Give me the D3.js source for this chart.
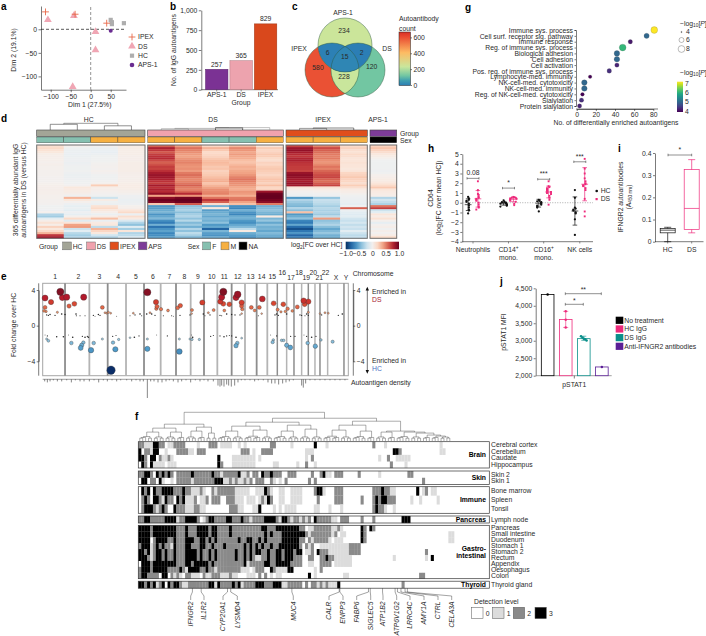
<!DOCTYPE html>
<html><head><meta charset="utf-8">
<script src="https://cdn.jsdelivr.net/npm/d3@7"></script>
<style>
html,body{margin:0;padding:0;background:#fff}
svg{display:block}
text{font-family:"Liberation Sans",Arial,sans-serif;font-size:6.8px;fill:#2a2a2a}
.domain,.tick line{stroke:#222;stroke-width:.6}
</style></head><body><svg id="c" width="706" height="636"></svg>
<script>
/* ---------- panel a ---------- */
const aIpex=[[-113,37],[-39,32],[40,13]];
const aDs=[[-107,20],[-42,29],[12,-5],[12,-44],[-45,-122]];
const aHc=[[50,20],[53,11],[53,15],[83,13]];
const aAps=[[50,-3]];
const aLegend=["IPEX","DS","HC","APS-1"];
/* ---------- panel b ---------- */
const bGroups=["APS-1","DS","IPEX"];
const bValues=[257,365,829];
const bColors=["#7b3294","#eda3ae","#d9481c"];
/* ---------- panel c ---------- */
const vennCounts={aps:234,ipex:580,ds:120,apsIpex:6,apsDs:2,ipexDs:228,all:15};
const countStops=[0,60,120,228,400,600];
const countColors=["#2a7db5","#3f9fb0","#72c6a2","#c9e69c","#fdbb63","#e8452f"];
/* ---------- panel g ---------- */
const gTerms=["Immune sys. process","Cell surf. receptor sig. pathway","Immune response","Reg. of immune sys. process","Biological adhesion","Cell adhesion","Cell activation","Pos. reg. of immune sys. process","Lymphocyte-med. immunity","NK-cell-med. cytotoxicity","NK-cell-med. immunity","Reg. of NK-cell-med. cytotoxicity","Sialylation","Protein sialylation"];
const gCounts=[81,73,56,48,42,42,42,34,14,8,8,6,5,3];
const gLogP=[7,5,4.2,6,5,5,4.3,4.4,4,5,5,4,4.4,4.3];
const gSizes=[6.8,5.2,4.4,6.8,5.6,5.6,4.4,4.6,3.6,5.6,5.6,3.7,4.4,4.3];
/* ---------- panel d ---------- */
const dColumns=["HC","HC","HC","HC","DS","DS","DS","DS","DS","IPEX","IPEX","IPEX","APS"];
const dSex=["F","F","M","M","M","M","F","F","M","M","M","M","NA"];
const dRows=[
[.15,.02,.00,.06,.60,.42,.20,.32,.12,.68,.50,.18,.22],
[.18,-.03,-.05,.06,.80,.55,.34,.48,.25,.85,.66,.22,.28],
[.14,-.05,-.06,.05,.72,.50,.26,.44,.20,.88,.60,.16,.22],
[.10,-.05,-.07,.05,.62,.46,.18,.38,.22,.82,.56,.14,.16],
[.05,-.06,-.05,.05,.70,.42,.20,.42,.26,.76,.52,.18,.10],
[.04,-.05,-.03,.04,.74,.40,.22,.38,.24,.72,.50,.16,.06],
[.03,-.04,-.02,.04,.76,.44,.26,.36,.18,.78,.52,.12,.02],
[.03,-.04,-.02,.04,.66,.48,.30,.30,.16,.80,.46,.12,-.02],
[.02,-.05,-.01,.05,.60,.50,.32,.28,.22,.74,.44,.14,-.03],
[.03,-.04,.00,.05,.64,.46,.30,.32,.20,.72,.48,.12,-.03],
[.02,-.03,.01,.05,.70,.44,.26,.36,.24,.70,.54,.12,-.03],
[.02,-.03,.00,.05,.68,.46,.28,.34,.26,.70,.50,.10,-.03],
[.01,-.02,.02,.05,.74,.42,.22,.38,.24,.68,.58,.12,-.04],
[.01,-.04,.00,.04,.82,.52,.24,.40,.22,.86,.62,.20,-.02],
[.01,-.05,-.02,.03,.86,.56,.26,.44,.20,.90,.66,.22,.02],
[.00,-.05,-.03,.03,.84,.52,.30,.50,.24,.88,.68,.26,.04],
[.00,-.04,-.02,.03,.80,.48,.34,.54,.28,.84,.60,.22,.06],
[.00,-.03,-.01,.04,.74,.50,.36,.50,.26,.82,.56,.20,.08],
[.02,-.02,.02,.05,.70,.54,.28,.46,.22,.86,.62,.16,.12],
[.03,.00,.24,.06,.82,.60,.34,.44,.30,.84,.68,.24,.18],
[.04,.10,.05,.06,.74,.52,.40,.38,.20,.12,.14,.16,.26],
[.04,.08,.04,.05,.80,.50,.46,.36,.22,.05,.06,.08,.12],
[.03,.06,.02,.03,.76,.58,.48,.44,.85,.00,.02,.05,.08],
[.03,.04,.00,.01,.88,.76,.50,.42,.98,-.03,-.02,.02,.06],
[.02,-.03,-.02,-.04,.40,.44,.36,.36,1.00,-.05,-.04,-.02,.04],
[.02,.34,-.20,-.04,.90,.96,.54,.52,1.00,-.58,-.38,-.04,-.30],
[.01,.10,.06,-.06,.98,1.00,.72,.54,.96,-.30,-.22,-.05,-.18],
[.01,.02,-.03,-.05,.94,.98,.60,.40,.90,-.36,-.24,-.06,-.24],
[.00,-.04,-.05,-.04,.26,.62,.16,.30,.52,-.42,-.28,-.08,-.32],
[-.03,-.08,.14,.02,-.58,-.40,-.48,-.62,-.48,-.46,-.34,-.04,.55],
[-.02,-.06,.18,.04,-.56,-.36,.10,-.66,-.44,-.30,-.28,.60,.70],
[-.04,-.10,.10,.12,-.50,-.32,-.56,-.48,-.40,-.42,-.32,-.05,-.20],
[.02,-.04,.04,.18,-.46,-.42,-.50,-.60,-.46,.30,-.30,-.10,-.10],
[-.30,-.08,-.05,-.06,-.60,-.34,-.46,-.66,-.50,-.58,-.36,-.12,.12],
[-.35,.02,.06,.16,-.52,-.30,-.52,-.50,.08,-.50,-.24,-.10,.06],
[-.10,.18,.30,.08,-.44,-.40,-.44,-.48,-.46,-.40,.42,-.18,.14],
[.04,-.12,-.06,-.14,-.62,-.28,-.48,-.58,-.38,-.66,-.40,-.22,.02],
[.14,.12,.08,-.30,-.70,-.44,-.40,-.62,-.52,-.70,-.36,-.16,-.08],
[.05,.40,.10,-.40,-.48,-.36,-.58,-.52,-.40,-.52,-.30,-.24,.00],
[.22,.42,-.25,-.12,-.74,-.48,-.52,-.44,-.48,-.76,-.42,-.18,.04],
[.10,-.20,.34,-.34,-.60,-.30,-.80,-.26,-.46,-.88,-.52,-.22,-.02],
[.18,-.10,.20,.12,-.54,-.40,-.46,.08,-.52,-.72,-.44,-.10,.04],
[.34,-.28,.10,-.30,-.66,-.26,-.56,-.50,-.44,-.60,-.38,-.20,.00],
[.72,-.34,-.18,-.26,-.62,-.34,-.60,-.56,-.50,-.78,-.48,-.26,.06],
[.84,-.30,-.30,-.16,-.56,-.46,-.52,-.62,-.54,-.70,-.50,-.24,.18]
];
/* ---------- panel e ---------- */
const eBounds=[128,195,268,323,378,432,482,528,572,612,652,695,735,770,802,832,860,882,905,925,945,960,983,1032,1045];
const eNames=[["1",165,0],["2",235,0],["3",298,0],["4",354,0],["5",408,0],["6",459,0],["7",508,0],["8",553,0],["9",594,0],["10",635,0],["11",673,0],["12",713,0],["13",752,0],["14",785,0],["15",817,0],["16",847,-3.7],["17",873,1.6],["18",897,-3.7],["19",919,1.6],["20",940,-3.7],["21",958,1.6],["22",977,-3.7],["X",1008,1.6],["Y",1038,1.6]];
const eUp=[[135,3.1],[153,2.65],[181,3.8],[187,3.15],[200,3.2],[251,3.2],[207,2.2],[223,2.45],[135,2.05],[132,1.65],[138,1.6],[307,2.05],[442,3.75],[468,2.65],[471,2.15],[469,1.9],[483,1.85],[504,1.7],[533,2.0],[541,2.25],[576,1.75],[607,2.6],[641,1.75],[670,3.8],[665,3.2],[661,2.7],[670,2.45],[688,2.4],[673,1.7],[708,3.15],[713,3.5],[725,2.6],[725,2.2],[727,1.85],[754,2.05],[764,1.7],[778,2.05],[787,3.0],[821,2.5],[833,1.8],[850,2.4],[863,1.9],[856,1.6],[843,1.55],[877,1.65],[892,2.1],[911,2.8],[914,2.4],[925,2.7],[925,1.5],
[140,1.2],[145,1.15],[150,1.25],[165,1.15],[172,1.5],[185,1.3],[195,1.25],[228,1.3],[229,1.1],[240,1.1],[255,1.1],[280,1.15],[285,1.05],[295,1.25],[300,1.15],[315,1.45],[320,1.4],[325,1.5],[332,1.4],[350,1.05],[390,1.1],[400,1.4],[405,1.2],[420,1.3],[425,1.1],[440,1.3],[450,1.45],[455,1.3],[465,1.15],[490,1.1],[515,1.1],[520,1.05],[540,1.15],[570,1.2],[575,1.35],[610,1.3],[615,1.1],[625,1.45],[630,1.2],[660,1.15],[665,1.1],[680,1.3],[695,1.25],[705,1.2],[720,1.2],[725,1.35],[775,1.1],[785,1.35],[825,1.2],[830,1.3],[835,1.15],[860,1.3],[900,1.2],[905,1.15],[915,1.1],[920,1.3],[925,1.15],[960,1.35],[965,1.2],[975,1.45],[985,1.4],[1015,1.15],[1027,1.3]];
const eDown=[[140,-1.5],[145,-1.7],[214,-1.95],[250,-1.9],[245,-2.2],[242,-2.5],[273,-2.75],[281,-1.95],[307,-1.5],[333,-5],[339,-1.9],[346,-2.65],[356,-1.55],[442,-1.5],[442,-2.6],[538,-2.9],[538,-1.5],[570,-1.5],[576,-1.55],[598,-1.55],[712,-1.95],[708,-2.25],[725,-1.4],[820,-1.6],[818,-1.85],[845,-1.65],[851,-1.65],[860,-2.2],[871,-2.45],[923,-1.95],[946,-2.3],[963,-1.6],[998,-1.8],
[135,-1.05],[142,-1.15],[170,-1.25],[190,-1.25],[205,-1.05],[218,-1.3],[247,-1.2],[255,-1.3],[262,-1.2],[265,-1.3],[338,-1.2],[348,-1.1],[390,-1.35],[403,-1.3],[417,-1.15],[470,-1.05],[502,-1.15],[575,-1.05],[578,-1.3],[632,-1.2],[640,-1.1],[660,-1.15],[672,-1.25],[680,-1.15],[688,-1.1],[695,-1.15],[708,-1.3],[812,-1.05],[830,-1.15],[872,-1.2],[885,-1.2],[912,-1.05],[920,-1.2],[935,-1.3],[948,-1.2]];
const eDensity=[[134,2],[142,3],[150,2],[160,1],[172,2],[185,2],[200,1],[214,3],[226,1],[240,2],[252,2],[268,2],[282,1],[296,3],[310,1],[322,2],[336,1],[350,2],[362,1],[380,1],[395,2],[408,1],[420,2],[430,2],[442,18],[452,2],[462,2],[474,3],[486,3],[498,2],[508,1],[520,2],[534,3],[545,2],[558,1],[572,3],[586,1],[600,2],[612,1],[624,2],[640,2],[654,6],[660,7],[665,6],[672,7],[680,5],[686,6],[694,7],[704,6],[714,3],[724,1],[735,1],[750,1],[764,2],[775,1],[790,1],[804,3],[815,4],[825,4],[836,5],[848,4],[858,3],[868,2],[880,1],[905,6],[910,8],[917,4],[930,1],[945,1],[960,1],[975,1],[990,1],[1005,1],[1020,1],[1035,1]];
/* ---------- panel f ---------- */
const fBlocks=[["Brain",441.7,468],["Skin",471,484.5],["Immune",486.7,513.3],["Pancreas",516,523],["Gastro-\nintestinal",525.3,578.7],["Thyroid",581.2,588.2]];
const brainTissues=["Cerebral cortex","Cerebellum","Caudate","Hippocampus"];
const brainLeft=["221113322011222200001000222011110010100000000220000010000000","302213300100022221102220000000000002220100222200000000000111","332033021121000000000000000300001111111101000000000000000102","032031111011100000000000000320001111111100000011000000100200"];
const brainRight=["300010000000000000002000100000000000000000010000000000000000","000000000000000000000000000332000000000000011000000000000000","000000000000000000000010020011111000000000000000000000000000","100000000000000000000000002000010000000000000000000000000000"];
const skinTissues=["Skin 2","Skin 1"];
const skinLeft=["223320323232022222322222232212222231120220322322200222000002","033022031001022222122222223331121211212022200210102000000020"];
const skinRight=["002311022200000200000010000000002200000000000000000000000000","200000000000000000000000000000000000020000000000000000000000"];
const immuneTissues=["Bone marrow","Spleen","Tonsil"];
const immuneLeft=["032303223333222322111210021222222111110011132100110011110000","023203321322032311120112022200222111011101213200110011110000","023332123200322211122110000000022211000113000010101111000000"];
const immuneRight=["233100022200000000002223221100000003012011000000000000000000","020000022200000020002323322200000100100000100000000000000000","110001000100000000002322100100000000000000000000000000000000"];
const pancreasTissues=["Lymph node"];
const pancreasLeft=["223322222333312233332012332222332223221222233332133212212120"];
const pancreasRight=["322222110222000020002000000000333000000000000000000000000000"];
const giTissues=["Pancreas","Small intestine","Duodenum","Stomach 1","Stomach 2","Rectum","Appendix","Oesophagus","Colon"];
const giLeft=["333323333333322232223333233222232222222222332223333333322011","333323333333322232223333233222232222222222232322233333333212","333302333322322233322332323222222232233223232222233333322021","233312323221322233222332232223222222323232322322333333320212","332312332322322233332322323222222322323233223223323332330112","333212332322322233332322323222222322323211223223323332220022","033323333333322233233333232222222222312222233223333322220011","233323333322223213333223221222222221110122200321111330000000","233222203302121022111021122211121100011102020101100000000030"];
const giRight=["222222112100000032032000000000000000000000000000000000000000","222222120110000032000000000000000000000000000011000000000000","222221011100000032000000000000000000000000000011000000000000","001111111111222200000000000000000000000000000000000000000000","032221111111222200000000000000000000002000000000000000000000","002232211111100000000000000100000000001030000000000000000000","002222011111100000000000000000000000000000000000000000000000","102000000000000000000000000000000000000000000000000000000000","100000000011000000000000000000000000220000000000000000000000"];
const thyroidTissues=["Thyroid gland"];
const thyroidLeft=["332323123032332112222222331322223231222233322233311222220202"];
const thyroidRight=["212121113000000000000000000000200000000000000000000000000000"];
const fLevels=["#ffffff","#dcdcdc","#8a8a8a","#000000"];
const fGenes=[["IFNGR2",18.5,190.7],["IL1R2",21.5,204],["CYP20A1",30.5,223],["LYSMD4",31.6,237.3],["MUC4",52.5,293.3],["CALR",68.7,329],["ENPP3",68.9,343],["FABP6",78.7,356.7],["SIGLEC5",79.3,370.7],["ATP1B2",83.5,383],["ATP6V1G2",87.8,396.7],["LRRC4C",88.6,410],["AMY1A",89.8,424],["CTRL",91.2,438],["CELA3A",92,451.7]];
/* nested [merge height, left, right]; a plain number is a tight cluster of leaves */
const fTree=[29,[17,[13,[9,5,4],[9,4,3]],[14,[10,4,3],[8,2,2]]],[23,[19,[15,[10,5,4],[11,6,4]],[16,[10,5,4],[12,4,4]]],[20,[16,[11,6,4],[10,5,3]],[10,[9,4,3],[9,5,[8,4,[6,3,[5,3,[4,2,[3,1,1]]]]]]]]]];
/* ---------- panel h ---------- */
const hCells=["Neutrophils","CD14⁺ mono.","CD16⁺ mono.","NK cells"];
const hcPts=[[.6,.45,.3,.2,.1,-.1,-.3,-.5,-.7,-.8,-1.1],[.25,.1,.05,0,-.05,-.1,-.15,-.2,-.25,-.3,-.4],[.3,.2,.15,.05,0,-.1,-.2,-.3,-.4,-.5,-.9],[1.3,.5,-.5,-.6,-.7,-.8,-1,-1.1,-1.7,-3.3]];
const dsPts=[[2.2,1.3,.9,.8,.6,.5,.4,.3,.2,0,-.2,-.4,-.5,-.7],[.6,.55,.5,.5,.45,.4,.35,.3,.2,.1,-.1,-.25],[2.2,1.7,1.6,1.5,1.4,1.3,1.2,1.1,1,.9,.7,.5,.3,-.2],[4.5,3.5,3,2.5,2.2,2,1.9,1.8,1.7,1.5,1.3,.4,-.9,-1.4]];
const hcMean=[-.2,-.1,-.05,-.85], hcSd=[.6,.15,.4,1.45];
const dsMean=[.4,.35,1.1,1.9], dsSd=[.85,.25,.6,1.7];
const hSig=[["0.08",2.5],["*",1.5],["***",2.4],["***",4.2]];
/* ---------- panel i ---------- */
const iGroups=["HC","DS"];
const iBoxes=[{lo:0,q1:.04,med:.052,q3:.06,hi:.065},{lo:.04,q1:.055,med:.15,q3:.325,hi:.37}];
/* ---------- panel j ---------- */
const jGroups=["No treatment","HC IgG","DS IgG","Anti-IFNGR2 antibodies"];
const jMeans=[4320,3610,3060,2250];
const jPoints=[[4320],[3840,3600,3380],[3130,3090,3060,3040,3010],[2250]];
const jColors=["#000000","#ee2a7b","#0a8f8a","#5a1e96"];

/* ================= drawing ================= */
const svg=d3.select("#c");
function T(x,y,s,o={}){
  const t=(o.g||svg).append("text").attr("x",x).attr("y",y).text(s)
    .attr("text-anchor",o.a||"start");
  if(o.b)t.style("font-weight","bold");
  if(o.i)t.style("font-style","italic");
  if(o.c)t.style("fill",o.c);
  if(o.s)t.style("font-size",o.s+"px");
  return t;
}
function RT(tx,ty,parts,o={}){
  const t=svg.append("text").attr("transform",`translate(${tx},${ty})`+(o.rot?" rotate(-90)":"")).attr("text-anchor",o.a||"middle");
  let back=0;
  parts.forEach(p=>{
    const q=typeof p==="string"?{t:p}:p;
    const sp=t.append("tspan").text(q.t);
    const d=q.sub?1.4:q.sup?-2.2:0;
    if(d-back)sp.attr("dy",d-back);
    back=d;
    if(q.sub||q.sup)sp.style("font-size","4.8px");
    if(q.i)sp.style("font-style","italic");
  });
  return t;
}
function rot(x,y,s,o={}){return T(0,0,s,{a:"middle",...o}).attr("transform",`translate(${x},${y}) rotate(-90)`);}
function styleAxis(g,fs){g.selectAll("text").style("font-size",(fs||6.8)+"px");g.selectAll(".tick line").attr("stroke","#222");return g;}
[["a",1,9.5],["b",170,9.5],["c",292,9.5],["g",465,11],["d",1,122],["h",428,152],["i",618,152],["e",1,280],["j",500,285],["f",135,420]]
  .forEach(d=>T(d[1],d[2],d[0],{b:1,s:10,c:"#000"}));

/* --- a --- */
{
  const x=d3.scaleLinear([-100,50],[50.7,110.7]), y=d3.scaleLinear([-100,0],[76.4,29.3]);
  const xa=d3.scaleLinear([x.invert(41),x.invert(126)],[41,126]);
  const ya=d3.scaleLinear([y.invert(89.7),y.invert(6)],[89.7,6]);
  svg.append("g").attr("transform","translate(0,89.7)").call(d3.axisBottom(xa).tickValues([-100,-50,0,50]).tickSize(2.5).tickPadding(1.5).tickSizeOuter(0)).call(styleAxis);
  svg.append("g").attr("transform","translate(41,0)").call(d3.axisLeft(ya).tickValues([-100,-50,0]).tickSize(2.5).tickPadding(1.5).tickSizeOuter(0)).call(styleAxis);
  svg.append("line").attr("x1",41).attr("x2",125).attr("y1",y(0)).attr("y2",y(0)).attr("stroke","#111").attr("stroke-width",.7).attr("stroke-dasharray","3,2");
  svg.append("line").attr("x1",x(0)).attr("x2",x(0)).attr("y1",7).attr("y2",89.7).attr("stroke","#777").attr("stroke-width",.8).attr("stroke-dasharray","3,2");
  const plus=(g,cx,cy,r)=>g.append("path").attr("d",`M${cx-r},${cy}H${cx+r}M${cx},${cy-r}V${cy+r}`).attr("stroke","#e8694a").attr("stroke-width",.9).attr("fill","none");
  const tri=(cx,cy,r)=>svg.append("path").attr("d",d3.symbol(d3.symbolTriangle,r*r*2.4)()).attr("transform",`translate(${cx},${cy})`).attr("fill","#f0a6b4");
  const sq=(cx,cy,s)=>svg.append("rect").attr("x",cx-s/2).attr("y",cy-s/2).attr("width",s).attr("height",s).attr("fill","#aeaeae");
  aHc.forEach(d=>sq(x(d[0]),y(d[1]),4.2));
  aDs.forEach(d=>tri(x(d[0]),y(d[1]),3.3));
  aIpex.forEach(d=>plus(svg,x(d[0]),y(d[1]),3.4));
  aAps.forEach(d=>svg.append("circle").attr("cx",x(d[0])).attr("cy",y(d[1])).attr("r",2).attr("fill","#6a2c91"));
  const ly=d3.scalePoint(aLegend,[37,65]);
  plus(svg,132,ly("IPEX"),3.4);tri(132,ly("DS"),3.3);sq(132,ly("HC"),4.2);
  svg.append("circle").attr("cx",132).attr("cy",ly("APS-1")).attr("r",2.3).attr("fill","#6a2c91");
  aLegend.forEach(l=>T(138,ly(l)+2.3,l));
  T(89.7,107,"Dim 1 (27.5%)",{a:"middle"});
  rot(16,50,"Dim 2 (19.1%)");
}
/* --- b --- */
{
  const x=d3.scaleBand(bGroups,[205,277.3]).paddingInner(.08).paddingOuter(.02), y=d3.scaleLinear([0,1000],[89.7,10.3]);
  svg.append("g").attr("transform","translate(201.3,0)").call(d3.axisLeft(y).tickValues([0,250,500,750,1000]).tickFormat(d3.format(",")).tickSize(2.5).tickPadding(1.5).tickSizeOuter(0)).call(styleAxis);
  svg.append("line").attr("x1",201.3).attr("x2",278).attr("y1",89.7).attr("y2",89.7).attr("stroke","#222").attr("stroke-width",.6);
  bGroups.forEach((g,i)=>{
    svg.append("rect").attr("x",x(g)).attr("width",x.bandwidth()).attr("y",y(bValues[i])).attr("height",89.7-y(bValues[i])).attr("fill",bColors[i]).attr("stroke",d3.color(bColors[i]).darker(.9)).attr("stroke-width",.5);
    T(x(g)+x.bandwidth()/2,y(bValues[i])-2.5,bValues[i],{a:"middle"});
    T(x(g)+x.bandwidth()/2,97,g,{a:"middle"});
    svg.append("line").attr("x1",x(g)+x.bandwidth()/2).attr("x2",x(g)+x.bandwidth()/2).attr("y1",89.7).attr("y2",91.5).attr("stroke","#222").attr("stroke-width",.5);
  });
  T(241,105,"Group",{a:"middle"});
  rot(176,50,"No. of IgG autoantigens");
}
/* --- c --- */
{
  const col=d3.scaleLinear(countStops,countColors);
  const C={aps:[345,45],ipex:[332,70],ds:[358,70]}, R=27;
  const defs=svg.append("defs");
  Object.keys(C).forEach(k=>defs.append("clipPath").attr("id","v-"+k).append("circle").attr("cx",C[k][0]).attr("cy",C[k][1]).attr("r",R));
  const circ=(g,k,f)=>g.append("circle").attr("cx",C[k][0]).attr("cy",C[k][1]).attr("r",R).attr("fill",f);
  circ(svg,"ipex",col(vennCounts.ipex));circ(svg,"ds",col(vennCounts.ds));circ(svg,"aps",col(vennCounts.aps));
  circ(svg.append("g").attr("clip-path","url(#v-ipex)"),"ds",col(vennCounts.ipexDs));
  circ(svg.append("g").attr("clip-path","url(#v-aps)"),"ipex",col(vennCounts.apsIpex));
  circ(svg.append("g").attr("clip-path","url(#v-aps)"),"ds",col(vennCounts.apsDs));
  circ(svg.append("g").attr("clip-path","url(#v-aps)").append("g").attr("clip-path","url(#v-ds)"),"ipex",col(vennCounts.all));
  Object.keys(C).forEach(k=>circ(svg,k,"none").attr("stroke","#2c5a3c").attr("stroke-width",.45));
  [[344,33,vennCounts.aps],[327.7,54.6,vennCounts.apsIpex],[344.7,58.6,vennCounts.all],[361.7,54.6,vennCounts.apsDs],[318,69.5,vennCounts.ipex],[344,79,vennCounts.ipexDs],[371.7,68.6,vennCounts.ds]].forEach(d=>T(d[0],d[1],d[2],{a:"middle"}));
  T(343,14.8,"APS-1",{a:"middle"});T(299,51,"IPEX",{a:"middle"});T(387,51,"DS",{a:"middle"});
  T(399,21,"Autoantibody");T(399,31,"count");
  const y=d3.scaleLinear([0,600],[85,37.4]);
  const id=defs.append("linearGradient").attr("id","cnt").attr("x1",0).attr("x2",0).attr("y1",1).attr("y2",0);
  countStops.forEach((s,i)=>id.append("stop").attr("offset",s/650).attr("stop-color",countColors[i]));
  id.append("stop").attr("offset",1).attr("stop-color","#d73027");
  svg.append("rect").attr("x",399).attr("y",32).attr("width",11.5).attr("height",53.5).attr("fill","url(#cnt)").attr("stroke","#222").attr("stroke-width",.5);
  svg.append("g").attr("transform","translate(410.5,0)").call(d3.axisRight(y).tickValues([0,200,400,600]).tickSize(1.5).tickPadding(1.5).tickSizeOuter(0)).call(g=>g.select(".domain").remove()).call(styleAxis);
}
/* --- g --- */
{
  const y=d3.scalePoint(gTerms,[30,106]), x=d3.scaleLinear([0,80],[576.7,653.3]);
  const col=d3.scaleSequential([4,7],d3.interpolateViridis);
  svg.append("g").attr("transform","translate(576,0)").call(d3.axisLeft(y).tickSize(1.5).tickPadding(1.5)).call(styleAxis);
  svg.append("g").attr("transform","translate(0,109)").call(d3.axisBottom(x).tickValues([0,20,40,60,80]).tickSize(2).tickPadding(1).tickSizeOuter(0)).call(styleAxis);
  svg.append("line").attr("x1",576).attr("x2",658).attr("y1",109).attr("y2",109).attr("stroke","#222").attr("stroke-width",.6);
  gTerms.forEach((t,i)=>svg.append("circle").attr("cx",x(gCounts[i])).attr("cy",y(t)).attr("r",gSizes[i]/2).attr("fill",col(gLogP[i])).attr("stroke","#555").attr("stroke-width",.2));
  T(616,125,"No. of differentially enriched autoantigens",{a:"middle"});
  const mk=(x,y)=>RT(x,y,["−log",{t:"10",sub:1},"[",{t:"P",i:1},"]"],{a:"start"});
  mk(680,26);
  [[4,.6,32],[6,2.5,40],[8,3.4,49]].forEach(d=>{
    svg.append("circle").attr("cx",681.5).attr("cy",d[2]).attr("r",d[1]).attr("fill",d[0]==4?"#555":"#fff").attr("stroke","#555").attr("stroke-width",.4);
    T(686,d[2]+2.2,d[0]);
  });
  mk(680,75);
  const yc=d3.scaleLinear([4,7],[111,83]);
  const defs=svg.append("defs"),gr=defs.append("linearGradient").attr("id","vir").attr("x1",0).attr("x2",0).attr("y1",1).attr("y2",0);
  d3.range(0,1.01,.1).forEach(t=>gr.append("stop").attr("offset",t).attr("stop-color",d3.interpolateViridis(t)));
  svg.append("rect").attr("x",677).attr("y",81.7).attr("width",6).attr("height",30.3).attr("fill","url(#vir)");
  svg.append("g").attr("transform","translate(683,0)").call(d3.axisRight(yc).tickValues([4,5,6,7]).tickFormat(d3.format("d")).tickSize(0).tickPadding(2)).call(g=>g.select(".domain").remove()).call(styleAxis);
}
/* --- d --- */
{
  const blocks=[["HC",36.7,145,"#a3a597"],["DS",147.7,283.3,"#f0a2ad"],["IPEX",286,367.3,"#e04e1c"],["APS",370,396.7,"#7d3c98"]];
  const sexC={F:"#86c0b0",M:"#f6b042",NA:"#000"};
  const top=145,bot=238.3;
  const ry=d3.scaleBand(d3.range(dRows.length),[top,bot]);
  const col=v=>d3.interpolateRdBu(.5-v/2);
  let xs=[];
  blocks.forEach(b=>{
    const idx=dColumns.map((c,i)=>c===b[0]?i:-1).filter(i=>i>=0);
    const bx=d3.scaleBand(idx,[b[1],b[2]]);
    svg.append("rect").attr("x",b[1]).attr("y",130).attr("width",b[2]-b[1]).attr("height",6.4).attr("fill",b[3]).attr("stroke","#444").attr("stroke-width",.6);
    idx.forEach(i=>{
      xs[i]=bx(i)+bx.bandwidth()/2;
      svg.append("rect").attr("x",bx(i)).attr("y",137).attr("width",bx.bandwidth()).attr("height",5.8).attr("fill",sexC[dSex[i]]).attr("stroke","#333").attr("stroke-width",.35);
      dRows.forEach((r,j)=>svg.append("rect").attr("x",bx(i)).attr("y",ry(j)).attr("width",bx.bandwidth()+.3).attr("height",ry.bandwidth()+.3).attr("fill",col(r[i])));
    });
    svg.append("rect").attr("x",b[1]).attr("y",top).attr("width",b[2]-b[1]).attr("height",bot-top).attr("fill","none").attr("stroke","#6f6f6f").attr("stroke-width",1);
  });
  const link=(x1,x2,y,y1,y2,c)=>svg.append("path").attr("d",`M${x1},${y1}V${y}H${x2}V${y2}`).attr("fill","none").attr("stroke",c||"#444").attr("stroke-width",.6);
  link(xs[0],xs[1],124.3,130,130);link(xs[2],xs[3],125.8,130,130);link((xs[0]+xs[1])/2,(xs[2]+xs[3])/2,123.3,124.3,125.8,"#555");
  link(xs[4],xs[5],128.8,130,130,"#888");link(xs[6],xs[7],127.6,130,130,"#111");link((xs[6]+xs[7])/2,xs[8],127.6,127.6,130,"#999");link((xs[4]+xs[5])/2,xs[7],128.4,128.8,127.6,"#888");
  link(xs[9],xs[10],128.4,130,130,"#555");link((xs[9]+xs[10])/2,xs[11],128,128.4,130,"#333");
  [["HC",88.7],["DS",213],["IPEX",323],["APS-1",378]].forEach(d=>T(d[1],122,d[0],{a:"middle"}));
  T(400,135.8,"Group");T(400,143,"Sex");
  rot(18,190,"365 differentially abundant IgG");rot(26,190,"autoantigens in DS (versus HC)");
  T(39,249,"Group");
  [["HC",62.7,"#a3a597"],["DS",86.7,"#f0a2ad"],["IPEX",110,"#e04e1c"],["APS",138.3,"#7d3c98"]].forEach(d=>{
    svg.append("rect").attr("x",d[1]).attr("y",242).attr("width",8.6).attr("height",7.8).attr("fill",d[2]).attr("stroke","#666").attr("stroke-width",.5);
    T(d[1]+10,249,d[0]);
  });
  T(187.7,249,"Sex");
  [["F",202.7,sexC.F],["M",221,sexC.M],["NA",239,sexC.NA]].forEach(d=>{
    svg.append("rect").attr("x",d[1]).attr("y",242).attr("width",8).attr("height",7.8).attr("fill",d[2]).attr("stroke","#666").attr("stroke-width",.5);
    T(d[1]+9.5,249,d[0]);
  });
  RT(291,247.3,["log",{t:"2",sub:1},"[FC over HC]"],{a:"start"});
  const cs=d3.scaleLinear([-1,1],[345.7,399]);
  const gr=svg.append("defs").append("linearGradient").attr("id","rd");
  d3.range(0,1.01,.1).forEach(t=>gr.append("stop").attr("offset",t).attr("stop-color",d3.interpolateRdBu(1-t)));
  svg.append("rect").attr("x",345.7).attr("y",241.7).attr("width",53.3).attr("height",7.6).attr("fill","url(#rd)");
  svg.append("g").attr("transform","translate(0,249.3)").call(d3.axisBottom(cs).tickValues([-1,-.5,0,.5,1]).tickFormat(d=>d===0?"0":d3.format(".1f")(d)).tickSize(0).tickPadding(2)).call(g=>g.select(".domain").remove()).call(styleAxis);
}
/* --- e --- */
{
  const x=d3.scaleLinear([128,1045],[42.7,348.3]), y=d3.scaleLinear([-4,4],[361.3,290]);
  const col=v=>v>0?d3.scaleLinear([1,1.6,2.5,3.2,3.9],["#f6c9ae","#ee8a5f","#d8442f","#b2182b","#7a0f22"])(v):d3.scaleLinear([-1,-1.6,-2.6,-5],["#d4e8f3","#95c7e0","#4f9ccb","#0a2d68"])(v);
  const r=d3.scaleLinear([1.05,1.5,2,2.6,3.2,3.9,5],[.45,1.1,1.9,2.6,3.1,3.7,4.2]);
  svg.append("rect").attr("x",x(128)).attr("y",283.3).attr("width",x(1045)-x(128)).attr("height",92.4).attr("fill","#fff").attr("stroke","#a5a5a5").attr("stroke-width",1);
  eBounds.slice(1,-1).forEach((b,i)=>svg.append("line").attr("x1",x(b)).attr("x2",x(b)).attr("y1",283.3).attr("y2",375.7).attr("stroke",i%2?"#b4b4b4":"#8d8d8d").attr("stroke-width",i<14?1.8:1.5));
  eNames.forEach(d=>T(x(d[1]),276.7+d[2]+2,d[0],{a:"middle"}));
  T(352.7,276,"Chromosome");
  const pts=eUp.concat(eDown).sort((a,b)=>Math.abs(a[1])-Math.abs(b[1]));
  svg.append("g").selectAll("circle").data(pts).join("circle").attr("cx",d=>x(d[0])).attr("cy",d=>y(d[1])).attr("r",d=>r(Math.abs(d[1])))
    .attr("fill",d=>Math.abs(d[1])<1.35?"#222":col(d[1])).attr("stroke","#333").attr("stroke-width",d=>Math.abs(d[1])<1.35?0:.35);
  svg.append("g").attr("transform","translate(38.7,0)").call(d3.axisLeft(y).tickValues([-4,0,4]).tickSize(2).tickPadding(1.5).tickSizeOuter(0)).call(styleAxis);
  svg.append("line").attr("x1",38.7).attr("x2",38.7).attr("y1",283.3).attr("y2",375.7).attr("stroke","#222").attr("stroke-width",.6);
  svg.append("g").attr("transform","translate(353.3,0)").call(d3.axisRight(y).tickValues([-4,0,4]).tickSize(2).tickPadding(1.5).tickSizeOuter(0)).call(styleAxis);
  svg.append("line").attr("x1",353.3).attr("x2",353.3).attr("y1",283.3).attr("y2",375.7).attr("stroke","#222").attr("stroke-width",.6);
  rot(16,325,"Fold change over HC");
  svg.append("path").attr("d","M367.3,288V372").attr("stroke","#111").attr("stroke-width",.6);
  svg.append("path").attr("d","M365.6,290.5L367.3,286.7L369,290.5ZM365.6,370L367.3,373.7L369,370Z").attr("fill","#111");
  T(372,294.3,"Enriched in");T(372,302,"DS",{c:"#a5202f"});T(372,363,"Enriched in");T(372,371.3,"HC",{c:"#4a6fc4"});
  const dy=d3.scaleLinear([0,18],[379.3,398]);
  svg.append("line").attr("x1",42.7).attr("x2",348.3).attr("y1",379.3).attr("y2",379.3).attr("stroke","#777").attr("stroke-width",.7);
  svg.append("g").selectAll("line").data(eDensity).join("line").attr("x1",d=>x(d[0])).attr("x2",d=>x(d[0])).attr("y1",379.3).attr("y2",d=>dy(d[1])).attr("stroke","#222").attr("stroke-width",.55);
  T(351,385.3,"Autoantigen density");
}
/* --- f --- */
{
  const rowsets=[[brainTissues,brainLeft,brainRight],[skinTissues,skinLeft,skinRight],[immuneTissues,immuneLeft,immuneRight],[pancreasTissues,pancreasLeft,pancreasRight],[giTissues,giLeft,giRight],[thyroidTissues,thyroidLeft,thyroidRight]];
  const cols=d3.range(120);
  const x=d3.scaleBand(cols,[138.3,489.3]);
  const lev=d3.scaleOrdinal(["0","1","2","3"],fLevels);
  const fg=svg.append("g");
  fBlocks.forEach((b,i)=>{
    const [names,L,R]=rowsets[i];
    const y=d3.scaleBand(names,[b[1],b[2]]);
    names.forEach((n,j)=>{
      const s=L[j].padEnd(60,"0").slice(0,60)+R[j].padEnd(60,"0").slice(0,60);
      cols.forEach(c=>{
        if(s[c]!=="0")fg.append("rect").attr("x",x(c)).attr("y",y(n)).attr("width",x.bandwidth()+.15).attr("height",y.bandwidth()+.1).attr("fill",lev(s[c]));
      });
      T(491,y(n)+y.bandwidth()/2+2.2,n);
    });
    fg.append("rect").attr("x",138.3).attr("y",b[1]).attr("width",351).attr("height",b[2]-b[1]).attr("fill","none").attr("stroke","#333").attr("stroke-width",.7);
    const lines=b[0].split("\n");
    const cy=(b[1]+b[2])/2+2.4-(lines.length-1)*3.6;
    lines.forEach((l,k)=>T(486,cy+k*7.4,l,{a:"end",b:1,c:"#000"}));
  });
  /* dendrogram over the leaves */
  const base=441;
  const h=d3.scaleLinear([0,29],[base,412.3]);
  let next=0;
  const paths=[];
  function tight(n){
    if(n===1){const c=next++;return{x:x(c)+x.bandwidth()/2,y:base};}
    const a=Math.ceil(n/2),A=tight(a),B=tight(n-a);
    return join(A,B,h(1.6+1.25*Math.log2(n)));
  }
  function join(A,B,y){paths.push(`M${A.x},${A.y}V${y}H${B.x}V${B.y}`);return{x:(A.x+B.x)/2,y};}
  function walk(n){
    if(typeof n==="number")return tight(n);
    const A=walk(n[1]),B=walk(n[2]);
    return join(A,B,h(n[0]));
  }
  walk(fTree);
  svg.append("path").attr("d",paths.join("")).attr("fill","none").attr("stroke","#3a3a3a").attr("stroke-width",.42);
  /* gene call-outs */
  fGenes.forEach(g=>{
    const cx=x(0)+g[1]*x.step();
    svg.append("path").attr("d",`M${cx},588.2V592L${g[2]},596V600`).attr("fill","none").attr("stroke","#333").attr("stroke-width",.45);
    T(0,0,g[0],{a:"end",i:1}).attr("transform",`translate(${g[2]+2.2},601.5) rotate(-90)`).attr("text-anchor","end");
  });
  T(474,604,"Detection level");
  [[471.7,"0"],[492.7,"1"],[513.3,"2"],[535,"3"]].forEach(d=>{
    svg.append("rect").attr("x",d[0]).attr("y",607.3).attr("width",11.3).attr("height",11.3).attr("fill",lev(d[1])).attr("stroke","#555").attr("stroke-width",.5);
    T(d[0]+14,615.5,d[1]);
  });
}
/* --- h --- */
{
  const y=d3.scaleLinear([-4,5],[241.7,154]);
  const x=d3.scaleBand(hCells,[456,596]);
  const offs=[-4.9,4.9];
  const pink="#ee2a7b";
  svg.append("g").attr("transform","translate(462.3,0)").call(d3.axisLeft(y).tickValues(d3.range(-4,6)).tickFormat(d3.format("d")).tickSize(2).tickPadding(1.5).tickSizeOuter(0)).call(styleAxis);
  svg.append("line").attr("x1",462.3).attr("x2",593).attr("y1",241.7).attr("y2",241.7).attr("stroke","#222").attr("stroke-width",.6);
  svg.append("line").attr("x1",462.3).attr("x2",593).attr("y1",y(0)).attr("y2",y(0)).attr("stroke","#888").attr("stroke-width",.7).attr("stroke-dasharray","1,1.5");
  hCells.forEach((c,i)=>{
    const cx=x(c)+x.bandwidth()/2+[-.5,0,.2,1.3][i];
    [[hcPts,hcMean,hcSd,"#111"],[dsPts,dsMean,dsSd,pink]].forEach((s,k)=>{
      const px=cx+offs[k];
      s[0][i].forEach((v,j)=>{
        const near=s[0][i].filter((w,m)=>m<j&&Math.abs(w-v)<.3).length;
        svg.append("path").attr("d",d3.symbol(k?d3.symbolSquare:d3.symbolCircle,k?3.6:4)()).attr("transform",`translate(${px+(near%2?1:-1)*Math.min(near,4)*.8},${y(v)})`).attr("fill",s[3]);
      });
      svg.append("path").attr("d",`M${px},${y(s[1][i]-s[2][i])}V${y(s[1][i]+s[2][i])}M${px-2.3},${y(s[1][i]-s[2][i])}h4.6M${px-2.3},${y(s[1][i]+s[2][i])}h4.6M${px-3.4},${y(s[1][i])}h6.8`).attr("stroke",s[3]).attr("stroke-width",.7).attr("fill","none");
    });
    const by=y(hSig[i][1])-(i==2?.1:0);
    svg.append("path").attr("d",`M${cx-6},${by-1.2}v2.4M${cx-6},${by}H${cx+6}M${cx+6},${by-1.2}v2.4`).attr("stroke","#222").attr("stroke-width",.5).attr("fill","none");
    T(cx,by-3,hSig[i][0],{a:"middle"});
    svg.append("line").attr("x1",cx).attr("x2",cx).attr("y1",241.7).attr("y2",243.5).attr("stroke","#222").attr("stroke-width",.5);
  });
  const lab=[["Neutrophils"],["CD14","mono."],["CD16","mono."],["NK cells"]];
  lab.forEach((l,i)=>{
    const cx=x(hCells[i])+x.bandwidth()/2+[-.5,0,.2,1.3][i];
    if(l[1]){RT(cx,251.5,[l[0],{t:"+",sup:1}]);T(cx,260,l[1],{a:"middle"});}
    else T(cx,251.5,l[0],{a:"middle"});
  });
  T(433,198,"CD64",{a:"middle"}).attr("transform","rotate(-90 433 198)");
  RT(441,198,["(log",{t:"2",sub:1},"[FC over mean HC])"],{rot:1});
  svg.append("circle").attr("cx",596.7).attr("cy",191).attr("r",1.3).attr("fill","#111");T(600.7,193.2,"HC");
  svg.append("rect").attr("x",595.5).attr("y",198).attr("width",2.2).attr("height",2.2).attr("fill",pink);T(600.7,201.2,"DS");
}
/* --- i --- */
{
  const y=d3.scaleLinear([0,.4],[241.7,153]);
  const x=d3.scaleBand(iGroups,[655.7,703.7]);
  svg.append("g").attr("transform","translate(655,0)").call(d3.axisLeft(y).tickValues([0,.1,.2,.3,.4]).tickFormat(d=>d===0?"0":d3.format(".1f")(d)).tickSize(2).tickPadding(1.5).tickSizeOuter(0)).call(styleAxis);
  svg.append("line").attr("x1",655).attr("x2",703.5).attr("y1",241.7).attr("y2",241.7).attr("stroke","#222").attr("stroke-width",.6);
  const cols=["#111","#ee2a7b"];
  iGroups.forEach((g,i)=>{
    const cx=x(g)+x.bandwidth()/2, b=iBoxes[i], c=cols[i];
    svg.append("path").attr("d",`M${cx},${y(b.lo)}V${y(b.hi)}M${cx-3.5},${y(b.hi)}h7M${cx-3.5},${y(b.lo)}h7`).attr("stroke",c).attr("stroke-width",.7).attr("fill","none");
    svg.append("rect").attr("x",cx-7.5).attr("width",15).attr("y",y(b.q3)).attr("height",y(b.q1)-y(b.q3)).attr("fill","#fff").attr("stroke",c).attr("stroke-width",.7);
    svg.append("line").attr("x1",cx-7.5).attr("x2",cx+7.5).attr("y1",y(b.med)).attr("y2",y(b.med)).attr("stroke",c).attr("stroke-width",.7);
    T(cx,251.5,g,{a:"middle"});
    svg.append("line").attr("x1",cx).attr("x2",cx).attr("y1",241.7).attr("y2",243.5).attr("stroke","#222").attr("stroke-width",.5);
  });
  svg.append("path").attr("d","M668,153.7v2.6M668,155H691.7M691.7,153.7v2.6").attr("stroke","#222").attr("stroke-width",.5).attr("fill","none");
  T(679.8,152,"*",{a:"middle"});
  rot(623,197,"IFNGR2 autoantibodies");
  RT(631,197,["(A",{t:"450 nm",sub:1},")"],{rot:1});
}
/* --- j --- */
{
  const y=d3.scaleLinear([2000,4500],[375.7,288.3]);
  const x=d3.scaleBand(jGroups,[538.8,610.7]).paddingInner(.3).paddingOuter(.14);
  svg.append("g").attr("transform","translate(535.7,0)").call(d3.axisLeft(y).tickValues([2000,2500,3000,3500,4000,4500]).tickFormat(d3.format(",")).tickSize(2).tickPadding(1.5).tickSizeOuter(0)).call(styleAxis);
  svg.append("line").attr("x1",535.7).attr("x2",611.7).attr("y1",375.7).attr("y2",375.7).attr("stroke","#888").attr("stroke-width",.8);
  jGroups.forEach((g,i)=>{
    const bx=x(g),cx=bx+x.bandwidth()/2,c=jColors[i];
    svg.append("rect").attr("x",bx).attr("width",x.bandwidth()).attr("y",y(jMeans[i])).attr("height",375.7-y(jMeans[i])).attr("fill","#fff").attr("stroke",c).attr("stroke-width",.8);
    const pts=jPoints[i];
    if(pts.length>1)svg.append("path").attr("d",`M${cx},${y(d3.max(pts))}V${y(d3.min(pts))}M${cx-2.5},${y(d3.max(pts))}h5M${cx-2.5},${y(d3.min(pts))}h5`).attr("stroke",c).attr("stroke-width",.6).attr("fill","none");
    pts.forEach((v,j)=>svg.append("circle").attr("cx",cx+(pts.length>3?(j-2)*1.4:0)).attr("cy",y(v)).attr("r",1.25).attr("fill",c));
    const ly=d3.scalePoint(jGroups,[320.3,346.3])(g);
    svg.append("rect").attr("x",615.7).attr("y",ly-3.6).attr("width",7.6).attr("height",7.2).attr("fill",c);
    T(624.3,ly+2.2,g);
  });
  [[565.3,601.3,293.7,"**"],[565.3,583.3,304.3,"*"]].forEach(d=>{
    svg.append("path").attr("d",`M${d[0]},${d[2]-1.4}v2.8M${d[0]},${d[2]}H${d[1]}M${d[1]},${d[2]-1.4}v2.8`).attr("stroke","#222").attr("stroke-width",.5).attr("fill","none");
    T((d[0]+d[1])/2,d[2]-1.5,d[3],{a:"middle"});
  });
  svg.append("line").attr("x1",574.3).attr("x2",574.3).attr("y1",375.7).attr("y2",378.5).attr("stroke","#222").attr("stroke-width",.6);
  T(574.3,387,"pSTAT1",{a:"middle"});
  rot(506,332,"pSTAT1 MFI");
}
</script></body></html>
